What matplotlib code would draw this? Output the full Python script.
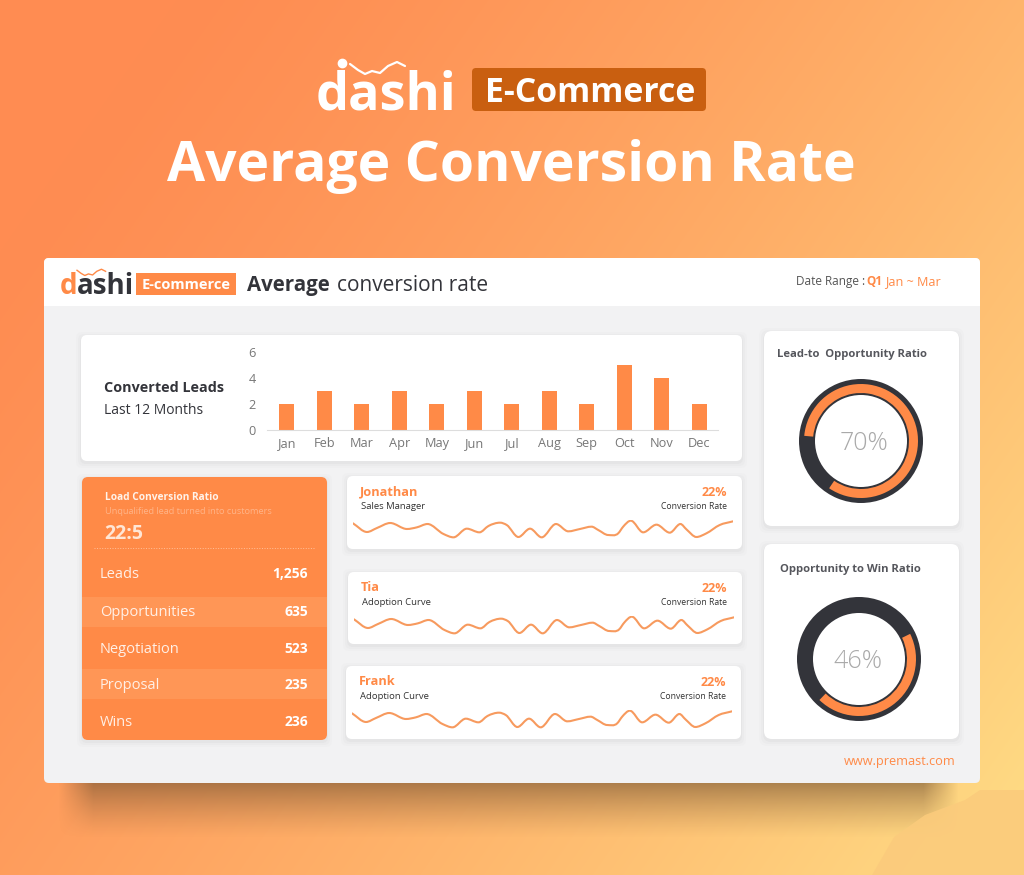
import matplotlib
matplotlib.use('Agg')
import matplotlib.pyplot as plt
from matplotlib.patches import FancyBboxPatch, Rectangle, Polygon, PathPatch
from matplotlib.path import Path
import numpy as np

W, H = 1024, 875
plt.rcParams['font.family'] = ['Open Sans', 'DejaVu Sans']

ORANGE = '#FF8A47'
DARK = '#33343A'

# bar chart
months = ['Jan', 'Feb', 'Mar', 'Apr', 'May', 'Jun', 'Jul', 'Aug', 'Sep', 'Oct', 'Nov', 'Dec']
converted = [2, 3, 2, 3, 2, 3, 2, 3, 2, 5, 4, 2]
bar_ticks = [0, 2, 4, 6]

# funnel table
stages = ['Leads', 'Opportunities', 'Negotiation', 'Proposal', 'Wins']
stage_values = ['1,256', '635', '523', '235', '236']

# people with sparklines
people = ['Jonathan', 'Tia', 'Frank']
roles = ['Sales Manager', 'Adoption Curve', 'Adoption Curve']
rates = ['22%', '22%', '22%']
spark_x = [38, 80, 110, 150, 200, 230, 262, 310, 340, 380, 418, 445, 480, 500, 535, 570, 605, 648, 685,
           720, 755, 775, 805, 835, 850, 873, 910, 950, 990, 1022, 1040, 1070, 1100, 1140, 1180]
spark_y = [50, 24, 36, 51, 33, 38, 48, 18, 8, 34, 23, 42, 52, 45, 9, 34, 8, 48, 26,
           33, 40, 30, 15, 20, 40, 58, 23, 46, 22, 48, 32, 9, 20, 45, 56]

# donuts
donut_titles = ['Lead-to  Opportunity Ratio', 'Opportunity to Win Ratio']
donut_labels = ['70%', '46%']
donut_share = [0.83, 0.445]
donut_start = [-124, -134]

# logo squiggle, in image pixels
logo_x = [350, 358, 365, 372, 380, 388, 397, 405]
logo_y = [64, 70, 74, 71, 73, 66, 62, 66]


def px_axes(x0, y0, x1, y1):
    ax = fig.add_axes([x0 / W, 1 - y1 / H, (x1 - x0) / W, (y1 - y0) / H])
    ax.patch.set_alpha(0)
    return ax


def card(x0, y0, x1, y1, color='white', r=6, shadow=True):
    if shadow:
        for grow, a in [(5, 0.015), (3, 0.025), (1, 0.04)]:
            bg.add_patch(FancyBboxPatch((x0 - grow + r, y0 + 2 - grow + r), x1 - x0 + 2 * grow - 2 * r,
                                        y1 - y0 + 2 * grow - 2 * r, boxstyle='round,pad=%d,rounding_size=%d' % (r, r),
                                        fc='#555560', ec='none', alpha=a))
    bg.add_patch(FancyBboxPatch((x0 + r, y0 + r), x1 - x0 - 2 * r, y1 - y0 - 2 * r,
                                boxstyle='round,pad=%d,rounding_size=%d' % (r, r), fc=color, ec='none'))


def txt(x, y, s, size, color=DARK, weight='normal', ha='left'):
    return bg.text(x, y - 0.7, s, fontsize=size, color=color, fontweight=weight, ha=ha, va='center_baseline')


def smooth_line(ax, xs, ys, color, lw):
    # bezier through the read points, tangents from neighbours
    xs = np.array(xs, dtype=float)
    ys = np.array(ys, dtype=float)
    dy = np.gradient(ys, xs)
    dy[1:-1][np.sign(ys[1:-1] - ys[:-2]) != np.sign(ys[2:] - ys[1:-1])] = 0
    verts = [(xs[0], ys[0])]
    codes = [Path.MOVETO]
    for i in range(len(xs) - 1):
        h = (xs[i + 1] - xs[i]) / 3
        verts += [(xs[i] + h, ys[i] + dy[i] * h), (xs[i + 1] - h, ys[i + 1] - dy[i + 1] * h), (xs[i + 1], ys[i + 1])]
        codes += [Path.CURVE4] * 3
    ax.add_patch(PathPatch(Path(verts, codes), fc='none', ec=color, lw=lw, capstyle='round'))


fig = plt.figure(figsize=(W / 100, H / 100), dpi=100)
bg = fig.add_axes([0, 0, 1, 1])
bg.axis('off')

# background gradient
yy, xx = np.mgrid[0:H, 0:W]
g = np.clip(xx / W * 0.7 + yy / H * 0.42 - 0.12, 0, 1)[..., None]
c0 = np.array([255, 140, 82]) / 255
c1 = np.array([254, 222, 134]) / 255
bg.imshow(c0 + (c1 - c0) * g ** 1.3, extent=[0, W, H, 0], aspect='auto', zorder=0)

# shadow under the dashboard
sx = np.clip((xx - 58) / 35, 0, 1) * np.clip((958 - xx) / 35, 0, 1)
sy = np.clip((838 - yy) / 55, 0, 1) ** 1.3 * (yy > 770)
shadow = np.zeros((H, W, 4))
shadow[..., :3] = np.array([120, 85, 50]) / 255
shadow[..., 3] = sx * sy * 0.6
bg.imshow(shadow, extent=[0, W, H, 0], aspect='auto', zorder=0.5)
bg.set_xlim(0, W)
bg.set_ylim(H, 0)
bg.add_patch(Polygon([(872, 875), (894, 837), (925, 815), (965, 800), (980, 790), (1024, 790), (1024, 875)],
                     fc='#FBCB7C', ec='none', alpha=0.9, zorder=0.6))

# top banner
bg.text(386, 109, 'dashi', fontsize=37.5, color='white', fontweight='bold', ha='center', va='baseline')
bg.plot(logo_x, logo_y, color='white', lw=1.6, solid_capstyle='round')
bg.plot([342], [63], 'o', color='white', ms=6)
bg.add_patch(FancyBboxPatch((476, 72), 226, 35, boxstyle='round,pad=4,rounding_size=4', fc='#C95F10', ec='none'))
bg.text(590, 89, 'E-Commerce', fontsize=24.3, color='white', fontweight='bold', ha='center', va='center_baseline')
bg.text(511.5, 160, 'Average Conversion Rate', fontsize=39.8, color='white', fontweight='bold', ha='center', va='center_baseline')

# dashboard
card(44, 258, 980, 783, color='#F2F2F3', r=5, shadow=False)
bg.add_patch(FancyBboxPatch((49, 263), 926, 38, boxstyle='round,pad=5,rounding_size=5', fc='white', ec='none'))
bg.add_patch(Rectangle((44, 285), 936, 21, fc='white', ec='none'))
bg.text(60, 294, 'd', fontsize=20, color=ORANGE, fontweight='bold', ha='left', va='baseline')
bg.text(77, 294, 'ashi', fontsize=20, color=DARK, fontweight='bold', ha='left', va='baseline')
bg.plot([x * 0.52 - 105 for x in logo_x], [y * 0.52 + 237 for y in logo_y], color=ORANGE, lw=1)
bg.add_patch(Rectangle((136, 273), 100, 22, fc=ORANGE, ec='none'))
txt(186, 284, 'E-commerce', 10.5, 'white', 'bold', 'center')
txt(247, 284, 'Average', 14.8, DARK, 'bold')
txt(337, 284, 'conversion rate', 15, DARK)
txt(796, 281, 'Date Range :', 8.5, '#555')
txt(866, 281, 'Q1', 8.5, ORANGE, 'bold')
txt(885.5, 281, 'Jan ~ Mar', 9.1, ORANGE)
txt(956, 761, 'www.premast.com', 9.2, ORANGE, ha='right')

# bar card
card(81, 335, 742, 461)
txt(104, 387, 'Converted Leads', 10.4, DARK, 'bold')
txt(104, 409, 'Last 12 Months', 10, DARK)
ax = px_axes(267, 352, 718, 430)
ax.bar(range(12), converted, width=0.4, color=ORANGE)
ax.set_xlim(-0.53, 11.5)
ax.set_ylim(0, 6)
ax.set_xticks(range(12), months)
ax.set_yticks(bar_ticks)
ax.tick_params(length=0, labelsize=9.2, labelcolor='#777', pad=5)
ax.tick_params(axis='y', pad=8)
for s in ['top', 'right', 'left']:
    ax.spines[s].set_visible(False)
ax.spines['bottom'].set_color('#DDD')

# orange table
card(82, 477, 327, 740, color=ORANGE, r=6)
txt(105, 497, 'Load Conversion Ratio', 7.3, '#FFF3EA', 'bold')
txt(105, 511, 'Unqualified lead turned into customers', 6.6, '#FFB488')
txt(104, 532, '22:5', 14, '#FFE6D5', 'bold')
bg.plot([94, 315], [548, 548], color='#FFC09A', lw=0.7, ls=':')
bg.add_patch(Rectangle((82, 597), 245, 30, fc='#FF9656', ec='none'))
bg.add_patch(Rectangle((82, 669), 245, 30, fc='#FF9656', ec='none'))
for name, val, y in zip(stages, stage_values, [573, 611, 648, 684, 721]):
    txt(100, y, name, 10.5, '#FFF0E6')
    txt(308, y, val, 10, 'white', 'bold', 'right')

# sparkline cards
spark_cards = [(347, 476, 742, 549), (348, 572, 742, 644), (346, 666, 741, 739)]
for i, (x0, y0, x1, y1) in enumerate(spark_cards):
    card(x0, y0, x1, y1)
    txt(x0 + 13, y0 + 15, people[i], 9.2, ORANGE, 'bold')
    txt(x0 + 14, y0 + 30, roles[i], 6.8, '#333')
    txt(x1 - 15, y0 + 16, rates[i], 9, ORANGE, 'bold', 'right')
    txt(x1 - 15, y0 + 30, 'Conversion Rate', 6.2, '#333', ha='right')
    ax = px_axes(x0 + 6, y0 + 44, x0 + 386, y0 + 64)
    smooth_line(ax, spark_x, spark_y, '#F79A5E', 1.5)
    ax.set_xlim(38, 1180)
    ax.set_ylim(0, 60)
    ax.axis('off')

# donut cards
donut_cards = [(764, 331, 959, 526), (764, 544, 959, 739)]
centres = [(861, 441), (859, 659)]
title_pos = [(777, 354), (780, 569)]
label_shift = [0.04, -0.01]
for i in range(2):
    card(*donut_cards[i], r=8)
    txt(title_pos[i][0], title_pos[i][1], donut_titles[i], 8.1, '#55565C', 'bold')
    cx, cy = centres[i]
    ax = px_axes(cx - 64, cy - 64, cx + 64, cy + 64)
    ax.pie([1], colors=[DARK], radius=62 / 64, wedgeprops={'width': 16 / 64})
    ax.pie([donut_share[i], 1 - donut_share[i]], colors=[ORANGE, 'none'], startangle=donut_start[i],
           radius=57 / 64, wedgeprops={'width': 9 / 64})
    ax.set_xlim(-1, 1)
    ax.set_ylim(-1, 1)
    ax.text(label_shift[i], 0.01, donut_labels[i], fontsize=18, color='#A9A9A9', fontweight='light', ha='center', va='center_baseline')

fig.savefig('out.png', dpi=100)
